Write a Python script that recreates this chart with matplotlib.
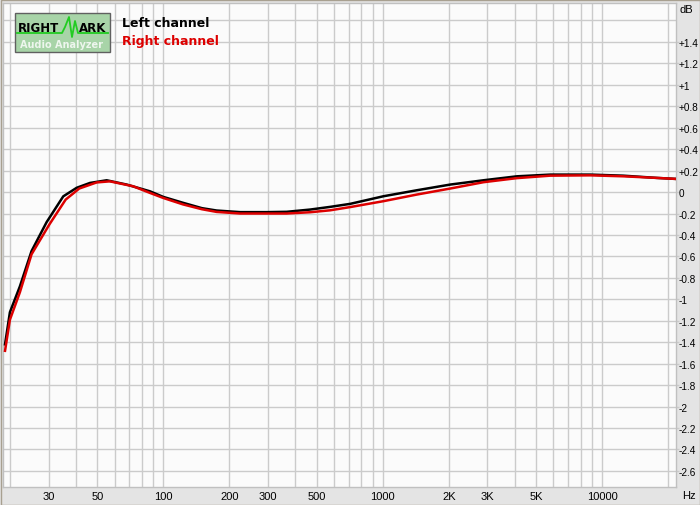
import numpy as np
import matplotlib
matplotlib.use("Agg")
import matplotlib.pyplot as plt
from matplotlib.patches import Rectangle
from matplotlib.lines import Line2D

# frequency response (Hz, dB)
freq_left = [19.0, 20.0, 22.2, 25.1, 29.4, 35.0, 40.3, 46.3, 55.2, 68.1, 87.0,
             100, 123, 150, 175, 224, 296, 365, 467, 576, 710, 1007, 1431, 2030,
             2877, 4088, 5800, 8830, 12480, 17780, 21530]
db_left = [-1.42, -1.12, -0.88, -0.55, -0.28, -0.04, 0.04, 0.085, 0.11, 0.07,
           0.007, -0.045, -0.10, -0.15, -0.172, -0.187, -0.187, -0.184, -0.163,
           -0.138, -0.11, -0.039, 0.017, 0.07, 0.11, 0.147, 0.163, 0.163,
           0.153, 0.132, 0.123]

freq_right = [19.0, 20.0, 22.2, 25.1, 30.3, 35.9, 41.4, 49.7, 57.1, 72.9, 87.0,
              100, 123, 150, 175, 224, 296, 365, 467, 576, 710, 1007, 1431, 2030,
              2877, 4088, 5800, 8830, 12480, 17780, 21530]
db_right = [-1.48, -1.19, -0.935, -0.58, -0.30, -0.07, 0.033, 0.09, 0.10, 0.054,
            -0.008, -0.055, -0.115, -0.16, -0.185, -0.2, -0.2, -0.2, -0.188,
            -0.17, -0.14, -0.085, -0.023, 0.033, 0.092, 0.13, 0.153, 0.156,
            0.147, 0.132, 0.123]

xtick_vals = [30, 50, 100, 200, 300, 500, 1000, 2000, 3000, 5000, 10000]
xtick_labels = ["30", "50", "100", "200", "300", "500", "1000", "2K", "3K", "5K", "10000"]
ytick_vals = [1.4, 1.2, 1.0, 0.8, 0.6, 0.4, 0.2, 0.0, -0.2, -0.4, -0.6, -0.8, -1.0,
              -1.2, -1.4, -1.6, -1.8, -2.0, -2.2, -2.4, -2.6]
ytick_labels = ["+1.4", "+1.2", "+1", "+0.8", "+0.6", "+0.4", "+0.2", "0", "-0.2",
                "-0.4", "-0.6", "-0.8", "-1", "-1.2", "-1.4", "-1.6", "-1.8", "-2",
                "-2.2", "-2.4", "-2.6"]

plt.rcParams["font.family"] = ["Liberation Sans", "DejaVu Sans"]

W, H = 700, 506
fig = plt.figure(figsize=(7, 5.06), dpi=100, facecolor="#e4e4e4")

# plot area in pixels: x 3..676, y 4..488
ax = fig.add_axes([3 / W, (H - 488) / H, (676 - 3) / W, (488 - 4) / H])
ax.set_facecolor("#fbfbfb")
ax.set_xscale("log")
ax.set_xlim(18.6, 21700)
ax.set_ylim(-2.75, 1.763)

# grid: every 1..9 multiple on x, every 0.2 dB on y
grid_x = [m * 10 ** d for d in range(1, 5) for m in range(1, 10)
          if 18.6 < m * 10 ** d < 21700]
for gx in grid_x:
    ax.axvline(gx, color="#cbcbcb", lw=1.0, zorder=1)
for gy in ytick_vals + [1.6]:
    ax.axhline(gy, color="#cbcbcb", lw=1.0, zorder=1)

ax.plot(freq_left, db_left, color="#000000", lw=1.8, zorder=3)
ax.plot(freq_right, db_right, color="#dd0000", lw=1.8, zorder=4)

ax.xaxis.set_minor_locator(matplotlib.ticker.NullLocator())
ax.set_xticks(xtick_vals)
ax.set_xticklabels(xtick_labels)
ax.tick_params(axis="x", length=0, pad=3, labelsize=8, colors="#000000")

ax.yaxis.tick_right()
ax.set_yticks(ytick_vals)
ax.set_yticklabels(ytick_labels)
ax.tick_params(axis="y", length=2, width=1, color="#cbcbcb", pad=0,
               labelsize=7.2, labelcolor="#000000")

for s in ax.spines.values():
    s.set_color("#c0c0c0")
    s.set_linewidth(1.0)

fig.text(682 / W, 1 - 496 / H, "Hz", fontsize=8, va="center", ha="left")
fig.text(680 / W, 1 - 10 / H, "dB", fontsize=8, va="center", ha="left")

# outer frame
fig.patches.append(Rectangle((0.5 / W, 0.5 / H), (W - 1) / W, (H - 1) / H,
                             transform=fig.transFigure, fill=False,
                             edgecolor="#a8a090", lw=1.0))


def px(x, y):
    return x / W, 1 - y / H


# RightMark logo
lx0, ly0 = px(15, 53)
fig.patches.append(Rectangle((lx0, ly0), 95 / W, 39 / H, transform=fig.transFigure,
                             facecolor="#a8d4a8", edgecolor="#606060", lw=1.0,
                             zorder=5))
wave_x = [17, 62, 65, 69, 72, 75, 78, 108]
wave_y = [34, 34, 28, 18, 38, 22, 34, 34]
fig.lines.append(Line2D([x / W for x in wave_x], [1 - y / H for y in wave_y],
                        transform=fig.transFigure, color="#22cc22", lw=1.3,
                        zorder=6))
fig.text(*px(18, 28), "RIGHT", fontsize=8.5, fontweight="bold", va="center",
         ha="left", zorder=7, family="DejaVu Sans")
fig.text(*px(79, 28), "ARK", fontsize=8.5, fontweight="bold", va="center",
         ha="left", zorder=7, family="DejaVu Sans")
fig.text(*px(62, 45), "Audio Analyzer", fontsize=7, fontweight="bold",
         color="#eef6ee", va="center", ha="center", zorder=7, family="DejaVu Sans")

fig.text(*px(122, 24), "Left channel", fontsize=9, fontweight="bold",
         color="#000000", va="center", ha="left", family="DejaVu Sans")
fig.text(*px(122, 41), "Right channel", fontsize=9, fontweight="bold",
         color="#dd0000", va="center", ha="left", family="DejaVu Sans")

fig.savefig("out.png", dpi=100, facecolor=fig.get_facecolor())
